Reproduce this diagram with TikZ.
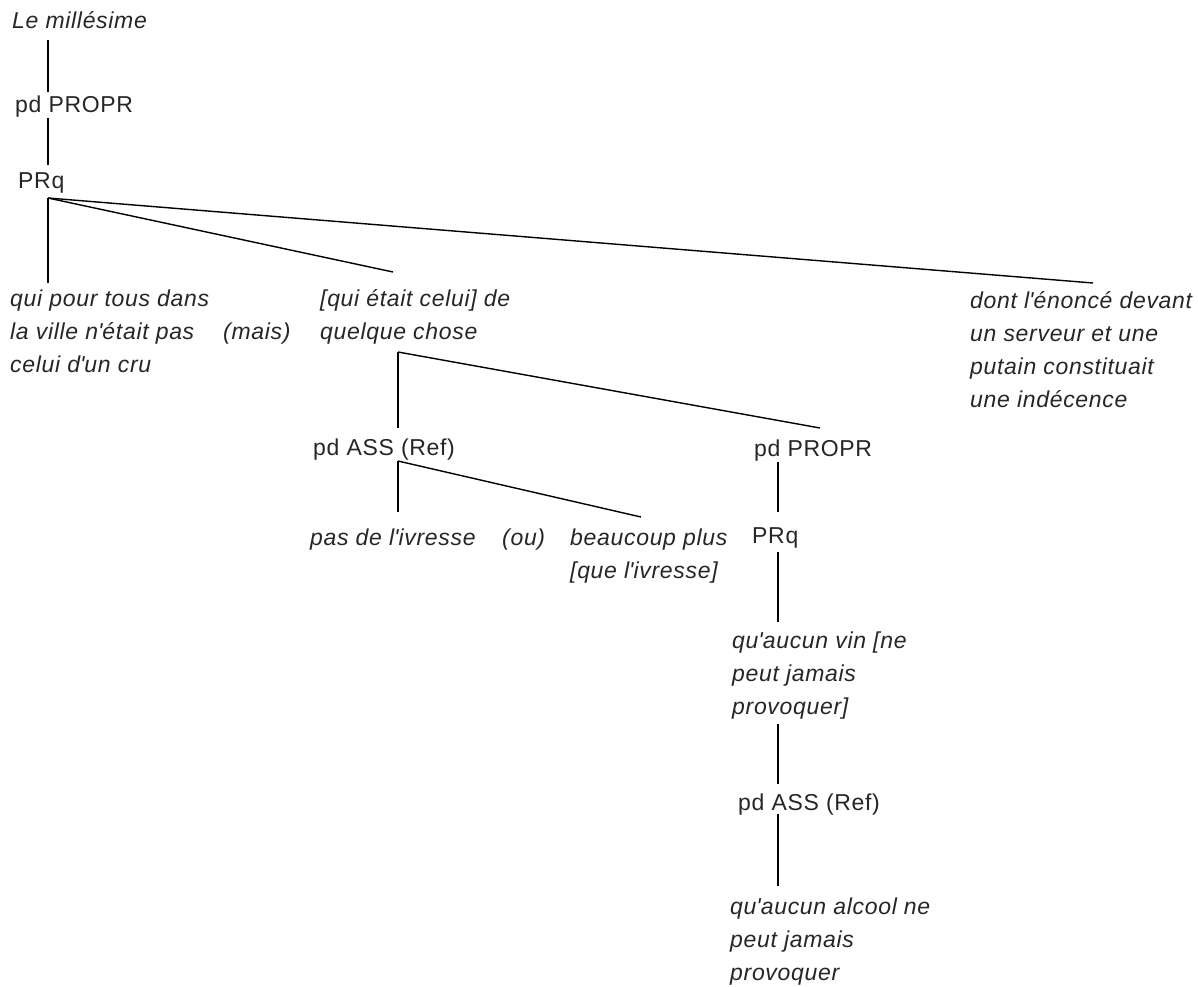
\documentclass[tikz,border=0pt]{standalone}
\usepackage{fontspec}
\setmainfont{Liberation Sans}[LetterSpace=3]
\begin{document}
\begin{tikzpicture}[x=1pt,y=-1pt,
  lab/.style={anchor=base west, inner sep=0pt, font=\fontsize{23}{33}\selectfont, text=black!85},
  cl/.style={lab, font=\fontsize{23}{33}\selectfont\itshape, align=left},
  edge/.style={line width=1.4pt, line cap=butt}]
\useasboundingbox[fill=white] (0,0) rectangle (1198,986);

% labels of the tree (multi-line labels are placed by their last baseline)
\node[cl]  (n0)   at (12,28)   {Le millésime};
\node[lab] (n1)   at (15,112)  {pd PROPR};
\node[lab] (n2)   at (18,188)  {PRq};
\node[cl]  (n3)   at (10,372)  {qui pour tous dans\\la ville n\textquotesingle était pas\\celui d\textquotesingle un cru};
\node[cl]  (mais) at (223,339) {(mais)};
\node[cl]  (n4)   at (320,339) {[qui était celui] de\\quelque chose};
\node[cl]  (n5)   at (970,407) {dont l\textquotesingle énoncé devant\\un serveur et une\\putain constituait\\une indécence};
\node[lab] (n6)   at (313,455) {pd ASS (Ref)};
\node[lab] (n7)   at (754,456) {pd PROPR};
\node[cl]  (n8)   at (310,545) {pas de l\textquotesingle ivresse};
\node[cl]  (ou)   at (502,545) {(ou)};
\node[cl]  (n9)   at (570,578) {beaucoup plus\\{}[que l\textquotesingle ivresse]};
\node[lab] (n10)  at (752,543) {PRq};
\node[cl]  (n11)  at (732,714) {qu\textquotesingle aucun vin [ne\\peut jamais\\provoquer]};
\node[lab] (n12)  at (738,810) {pd ASS (Ref)};
\node[cl]  (n13)  at (730,980) {qu\textquotesingle aucun alcool ne\\peut jamais\\provoquer};

% branching points and line ends
\coordinate (t0) at (48,40);   \coordinate (b1) at (48,92);
\coordinate (t1) at (48,118);  \coordinate (b2) at (48,165);
\coordinate (t2) at (48,198);
\coordinate (b3) at (48,283);  \coordinate (b4) at (393,272); \coordinate (b5) at (1093,283);
\coordinate (t4) at (398,352);
\coordinate (b6) at (398,428); \coordinate (b7) at (820,428);
\coordinate (t6) at (398,461);
\coordinate (b8) at (398,512); \coordinate (b9) at (641,517);
\coordinate (t7) at (778,462);  \coordinate (b10) at (778,512);
\coordinate (t10) at (778,552); \coordinate (b11) at (778,622);
\coordinate (t11) at (778,724); \coordinate (b12) at (778,784);
\coordinate (t12) at (778,814); \coordinate (b13) at (778,886);

% connectors
\draw[edge] (t0) -- (b1);
\draw[edge] (t1) -- (b2);
\draw[edge] (t2) -- (b3);
\draw[edge] (t2) -- (b4);
\draw[edge] (t2) -- (b5);
\draw[edge] (t4) -- (b6);
\draw[edge] (t4) -- (b7);
\draw[edge] (t6) -- (b8);
\draw[edge] (t6) -- (b9);
\draw[edge] (t7) -- (b10);
\draw[edge] (t10) -- (b11);
\draw[edge] (t11) -- (b12);
\draw[edge] (t12) -- (b13);
\end{tikzpicture}
\end{document}
